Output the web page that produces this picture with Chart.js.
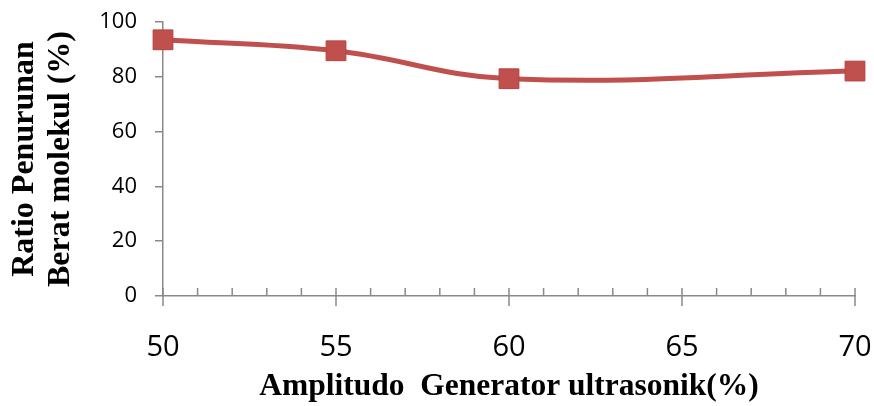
<!DOCTYPE html>
<html>
<head>
<meta charset="utf-8">
<script src="https://cdn.jsdelivr.net/npm/chart.js@4.4.1/dist/chart.umd.min.js"></script>
<style>
  html, body { margin: 0; padding: 0; background: #fff; }
  #wrap { width: 874px; height: 406px; }
</style>
</head>
<body>
<div id="wrap"><canvas id="ratioChart" width="874" height="406"></canvas></div>
<script>
// amplitude (%) vs ratio of molecular weight reduction (%)
var amplitudo = [50, 55, 60, 70];
var ratio = [93.5, 89.5, 79.3, 82.1];
var xTicks = [50, 55, 60, 65, 70];
var yTicks = [0, 20, 40, 60, 80, 100];

var axisGray = '#898989';
var red = '#c0504d';

// minor ticks above the x axis, major ticks crossing it
var xTickPlugin = {
    id: 'xTickPlugin',
    afterDraw: function(chart) {
        var x = chart.scales.x;
        var ctx = chart.ctx;
        var y0 = x.top;
        ctx.save();
        ctx.strokeStyle = axisGray;
        ctx.lineWidth = 1.5;
        for (var v = x.min; v <= x.max; v++) {
            var px = x.getPixelForValue(v);
            var major = xTicks.indexOf(v) !== -1;
            ctx.beginPath();
            ctx.moveTo(px, y0 - 8);
            ctx.lineTo(px, major ? y0 + 10 : y0);
            ctx.stroke();
        }
        ctx.restore();
    }
};

document.addEventListener('DOMContentLoaded', function() {
    var ctx = document.getElementById('ratioChart').getContext('2d');

    var config = {
        type: 'line',
        data: {
            datasets: [{
                data: amplitudo.map(function(a, i) { return { x: a, y: ratio[i] }; }),
                borderColor: red,
                backgroundColor: red,
                borderWidth: 5,
                tension: 0.4,
                pointStyle: 'rect',
                pointRadius: 14,
                pointHoverRadius: 14,
                pointBorderWidth: 1,
                pointBorderColor: '#b9413e',
                pointBackgroundColor: red,
                clip: false
            }]
        },
        options: {
            responsive: false,
            maintainAspectRatio: false,
            animation: false,
            layout: { padding: { top: 22, right: 19, left: 0, bottom: 0 } },
            plugins: { legend: { display: false }, tooltip: { enabled: false } },
            scales: {
                x: {
                    type: 'linear',
                    min: 50,
                    max: 70,
                    afterFit: function(s) {
                        s.height = 110;
                        s.paddingLeft = 0;
                        s.paddingRight = 0;
                    },
                    afterBuildTicks: function(s) {
                        s.ticks = xTicks.map(function(v) { return { value: v }; });
                    },
                    grid: { display: false },
                    border: { display: true, color: axisGray, width: 1.5 },
                    ticks: {
                        autoSkip: false,
                        maxRotation: 0,
                        padding: 26,
                        color: '#000',
                        font: { family: 'Open Sans', size: 29 }
                    },
                    title: {
                        display: true,
                        text: 'Amplitudo  Generator ultrasonik(%)',
                        color: '#000',
                        padding: { top: 0, bottom: 0 },
                        font: { family: 'Liberation Serif', size: 31.5, weight: 'bold', lineHeight: 1.2 }
                    }
                },
                y: {
                    min: 0,
                    max: 100,
                    afterFit: function(s) {
                        s.width = 163;
                        s.paddingTop = 0;
                        s.paddingBottom = 0;
                    },
                    afterBuildTicks: function(s) {
                        s.ticks = yTicks.map(function(v) { return { value: v }; });
                    },
                    grid: {
                        drawOnChartArea: false,
                        drawTicks: true,
                        tickLength: 8,
                        color: axisGray,
                        lineWidth: 1.5
                    },
                    border: { display: true, color: axisGray, width: 1.5 },
                    ticks: {
                        padding: 18,
                        color: '#000',
                        font: { family: 'Open Sans', size: 22 }
                    },
                    title: {
                        display: true,
                        text: ['Ratio Penurunan', 'Berat molekul (%)'],
                        color: '#000',
                        padding: { top: 6, bottom: 0 },
                        font: { family: 'Liberation Serif', size: 32, weight: 'bold', lineHeight: 1.15 }
                    }
                }
            }
        },
        plugins: [xTickPlugin]
    };

    var ratioChart = new Chart(ctx, config);
});
</script>
</body>
</html>
